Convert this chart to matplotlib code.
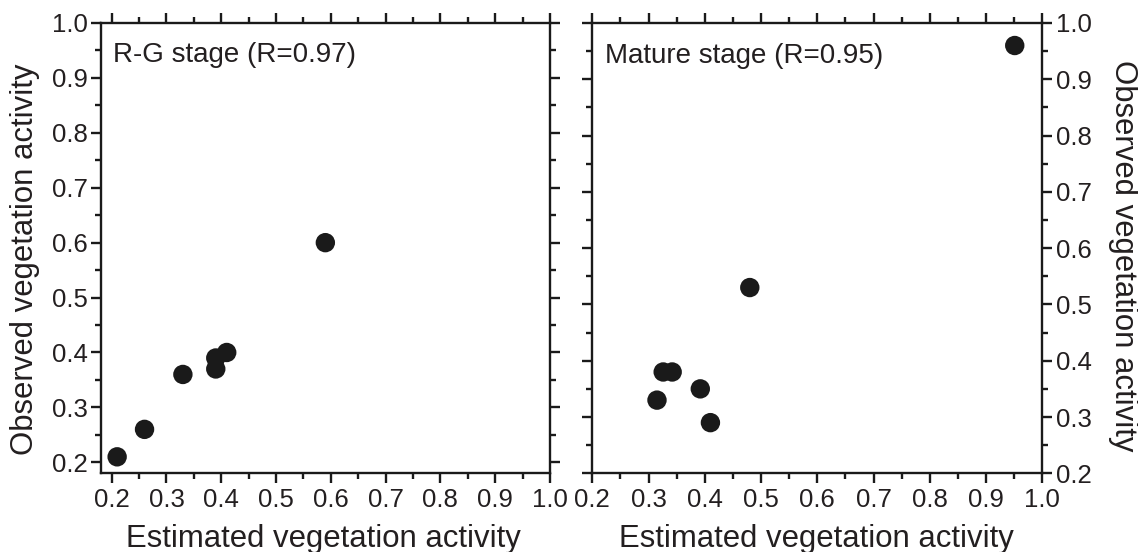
import matplotlib
matplotlib.use("Agg")
import matplotlib.pyplot as plt
from matplotlib.ticker import MultipleLocator

plt.rcParams['font.family'] = ['Liberation Sans', 'DejaVu Sans']

# Data
rg_est = [0.21, 0.26, 0.33, 0.39, 0.39, 0.41, 0.59]
rg_obs = [0.21, 0.26, 0.36, 0.37, 0.39, 0.40, 0.60]
mat_est = [0.315, 0.326, 0.342, 0.392, 0.41, 0.48, 0.951]
mat_obs = [0.33, 0.38, 0.38, 0.35, 0.29, 0.53, 0.96]
ticks = [0.2, 0.3, 0.4, 0.5, 0.6, 0.7, 0.8, 0.9, 1.0]
tick_labels = ["0.2", "0.3", "0.4", "0.5", "0.6", "0.7", "0.8", "0.9", "1.0"]
xlabel = "Estimated vegetation activity"
ylabel = "Observed vegetation activity"
title_left = "R-G stage (R=0.97)"
title_right = "Mature stage (R=0.95)"

W, H = 1138, 552
fig = plt.figure(figsize=(W / 100, H / 100), dpi=100)
top_px, bot_px = 23.0, 473.3
ax1 = fig.add_axes([100.7 / W, 1 - bot_px / H, (550 - 100.7) / W, (bot_px - top_px) / H])
ax2 = fig.add_axes([592.3 / W, 1 - bot_px / H, (1042.3 - 592.3) / W, (bot_px - top_px) / H])

dark = '#1a1a1a'
tcol = '#231f20'
tick_fs = 18.5
label_fs = 22.4
ann_fs = 20

for ax in (ax1, ax2):
    for sp in ax.spines.values():
        sp.set_linewidth(1.7)
        sp.set_color(dark)
    ax.set_xticks(ticks)
    ax.set_xticklabels(tick_labels)
    ax.set_yticks(ticks)
    ax.set_yticklabels(tick_labels)
    ax.xaxis.set_minor_locator(MultipleLocator(0.05))
    ax.yaxis.set_minor_locator(MultipleLocator(0.05))
    ax.tick_params(which='both', direction='out', top=True, right=True,
                   bottom=True, left=True, color=dark, labelcolor=tcol,
                   labelsize=tick_fs)
    ax.tick_params(which='major', length=7.2, width=1.7)
    ax.tick_params(which='minor', length=4.3, width=1.7)
    ax.tick_params(axis='x', which='major', pad=3.5)
    ax.tick_params(axis='y', which='major', pad=2.2)

ax1.scatter(rg_est, rg_obs, s=195, color=dark, edgecolors='none', zorder=3, clip_on=False)
ax1.set_xlim(0.18, 1.0)
ax1.set_ylim(0.18, 1.0)
ax1.text(0.0267, 0.914, title_left, transform=ax1.transAxes, fontsize=ann_fs,
         color=tcol, va='baseline', ha='left')

ax2.scatter(mat_est, mat_obs, s=195, color=dark, edgecolors='none', zorder=3, clip_on=False)
ax2.set_xlim(0.2, 1.0)
ax2.set_ylim(0.2, 1.0)
ax2.tick_params(which='both', left=True, right=True, labelleft=False, labelright=True)
ax2.tick_params(axis='y', which='major', pad=3)
ax2.text(0.028, 0.911, title_right, transform=ax2.transAxes, fontsize=ann_fs,
         color=tcol, va='baseline', ha='left')

# Axis labels
fig.text(323 / W, 1 - 546.7 / H, xlabel, fontsize=label_fs, color=tcol,
         ha='center', va='baseline')
fig.text(816 / W, 1 - 546.7 / H, xlabel, fontsize=label_fs, color=tcol,
         ha='center', va='baseline')
fig.text(9.5 / W, 1 - 259 / H, ylabel, fontsize=label_fs, color=tcol,
         rotation=90, ha='left', va='center')
fig.text(1108.5 / W, 1 - 256 / H, ylabel, fontsize=label_fs, color=tcol,
         rotation=270, ha='left', va='center')

fig.savefig('out.png', dpi=100, facecolor='white')
